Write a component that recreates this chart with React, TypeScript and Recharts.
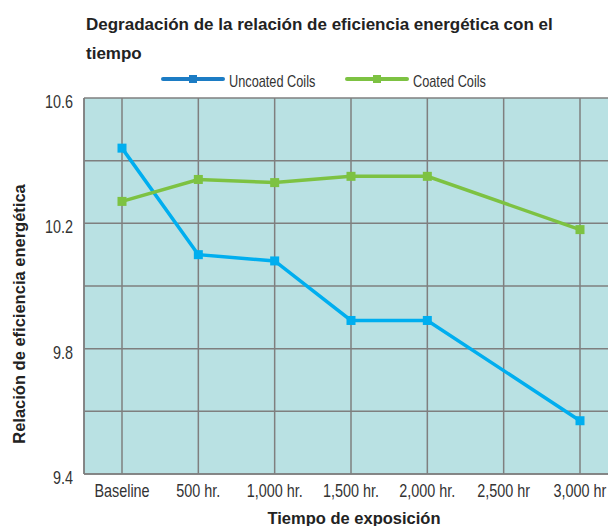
import React from 'react';
import { LineChart, Line, XAxis, YAxis, CartesianGrid } from 'recharts';

const categories = ['Baseline', '500 hr.', '1,000 hr.', '1,500 hr.', '2,000 hr.', '2,500 hr', '3,000 hr'];
const uncoatedValues: (number | null)[] = [10.44, 10.1, 10.08, 9.89, 9.89, null, 9.57];
const coatedValues: (number | null)[] = [10.27, 10.34, 10.33, 10.35, 10.35, null, 10.18];
const yTicks = [9.4, 9.6, 9.8, 10.0, 10.2, 10.4, 10.6];
const yLabeled = [9.4, 9.8, 10.2, 10.6];

const titleLines = ['Degradación de la relación de eficiencia energética con el', 'tiempo'];
const xTitle = 'Tiempo de exposición';
const yTitle = 'Relación de eficiencia energética';

const series = [
  { key: 'uncoated', name: 'Uncoated Coils', color: '#00aeef', legendColor: '#1c7cc4' },
  { key: 'coated', name: 'Coated Coils', color: '#7dc242', legendColor: '#7dc242' },
];

const data = categories.map((c, i) => ({ cat: c, uncoated: uncoatedValues[i], coated: coatedValues[i] }));

const SANS = '"Liberation Sans", Arial, sans-serif';
const SQUEEZE = 0.8;

const makeDot = (color: string) => (props: any) => {
  const { cx, cy, index } = props;
  if (cx == null || cy == null || props.value == null) return <g key={`d-${index}`} />;
  return <rect key={`d-${index}`} x={cx - 4.5} y={cy - 4.5} width={9} height={9} fill={color} />;
};

const XTick = (props: any) => {
  const { x, y, payload } = props;
  return (
    <g transform={`translate(${x},${y})`}>
      <text transform={`scale(${SQUEEZE},1)`} x={0} y={23} textAnchor="middle" fontFamily={SANS} fontSize={18} fill="#333">
        {payload.value}
      </text>
    </g>
  );
};

const YTick = (props: any) => {
  const { x, y, payload } = props;
  const v = payload.value as number;
  if (!yLabeled.some((l) => Math.abs(l - v) < 1e-6)) return <g />;
  return (
    <g transform={`translate(${x},${y})`}>
      <text transform={`scale(${SQUEEZE},1)`} x={0} y={10} textAnchor="end" fontFamily={SANS} fontSize={18} fill="#333">
        {v.toFixed(1)}
      </text>
    </g>
  );
};

const XLabel = (props: any) => {
  const vb = props.viewBox;
  return (
    <text x={vb.x + vb.width / 2 + 3} y={524} textAnchor="middle" fontFamily={SANS} fontWeight="bold" fontSize={16.5} fill="#222">
      {xTitle}
    </text>
  );
};

const YLabel = () => (
  <text x={0} y={0} transform="translate(24.5,314) rotate(-90)" textAnchor="middle" fontFamily={SANS} fontWeight="bold" fontSize={16.5} fill="#222">
    {yTitle}
  </text>
);

const legendPos = [
  { lineX: 163, textX: 229 },
  { lineX: 347, textX: 413 },
];

export default function App() {
  return (
    <div style={{ position: 'absolute', left: 0, top: 0, width: 608, height: 526, overflow: 'hidden', background: '#fff' }}>
      <LineChart width={620} height={526} data={data} margin={{ top: 98, right: 2, bottom: 0, left: 0 }}>
        <CartesianGrid stroke="#7f7f7f" strokeWidth={1.5} fill="#b9e1e3" fillOpacity={1} />
        <XAxis
          dataKey="cat"
          height={52}
          padding={{ left: 38, right: 38 }}
          tickLine={false}
          tickSize={0}
          tickMargin={0}
          axisLine={{ stroke: '#7f7f7f', strokeWidth: 1.5 }}
          tick={<XTick />}
          interval={0}
          label={<XLabel />}
        />
        <YAxis
          width={84}
          domain={[9.4, 10.6]}
          ticks={yTicks}
          tickLine={false}
          tickSize={0}
          tickMargin={11}
          axisLine={{ stroke: '#7f7f7f', strokeWidth: 1.5 }}
          tick={<YTick />}
          label={<YLabel />}
        />
        {series.map((s) => (
          <Line
            key={s.key}
            dataKey={s.key}
            name={s.name}
            stroke={s.color}
            strokeWidth={3.5}
            connectNulls
            dot={makeDot(s.color)}
            activeDot={false}
            isAnimationActive={false}
          />
        ))}
      </LineChart>
      <svg width={608} height={96} style={{ position: 'absolute', left: 0, top: 0, pointerEvents: 'none' }}>
        {titleLines.map((t, i) => (
          <text key={t} x={86} y={30 + i * 29} fontFamily={SANS} fontWeight="bold" fontSize={17} fill="#222">
            {t}
          </text>
        ))}
        {series.map((s, i) => (
          <g key={s.key}>
            <line x1={legendPos[i].lineX} y1={79} x2={legendPos[i].lineX + 60} y2={79} stroke={s.legendColor} strokeWidth={4} strokeLinecap="round" />
            <rect x={legendPos[i].lineX + 26} y={75} width={8} height={8} fill={s.legendColor} />
            <g transform={`translate(${legendPos[i].textX},86.5)`}>
              <text transform="scale(0.75,1)" x={0} y={0} fontFamily={SANS} fontSize={17} fill="#333">
                {s.name}
              </text>
            </g>
          </g>
        ))}
      </svg>
    </div>
  );
}
